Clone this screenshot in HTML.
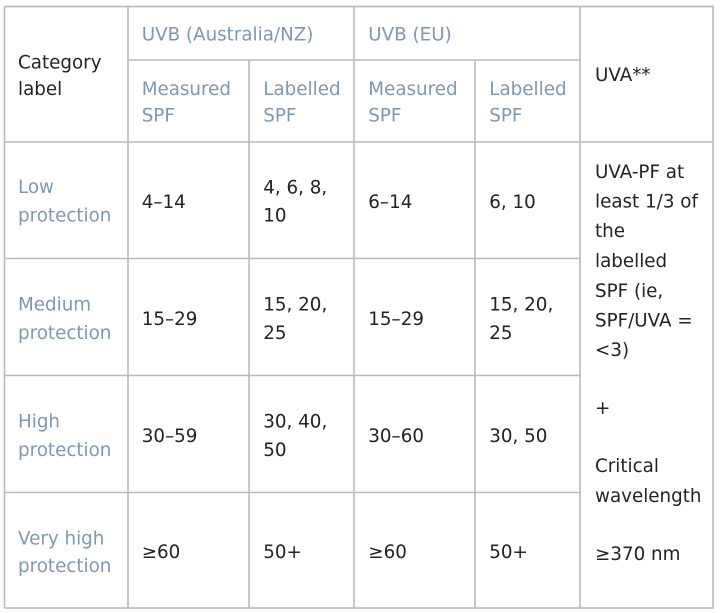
<!DOCTYPE html>
<html>
<head>
<meta charset="utf-8">
<style>
html,body{margin:0;padding:0;background:#fff;}
svg{display:block;}
text{font-family:"DejaVu Sans","Liberation Sans",sans-serif;font-size:18.3px;}
.d{fill:#232323;}
.b{fill:#7f98ae;}
</style>
</head>
<body>
<svg width="720" height="613" viewBox="0 0 720 613" xmlns="http://www.w3.org/2000/svg">
<g stroke="#b7babe" stroke-width="1.6" fill="none">
  <rect x="4.5" y="6.5" width="708.5" height="601.5"/>
  <line x1="128" y1="6.5" x2="128" y2="608"/>
  <line x1="249" y1="60" x2="249" y2="608"/>
  <line x1="354" y1="6.5" x2="354" y2="608"/>
  <line x1="475" y1="60" x2="475" y2="608"/>
  <line x1="580" y1="6.5" x2="580" y2="608"/>
  <line x1="128" y1="60" x2="580" y2="60"/>
  <line x1="4.5" y1="142" x2="713" y2="142"/>
  <line x1="4.5" y1="258.5" x2="580" y2="258.5"/>
  <line x1="4.5" y1="375.5" x2="580" y2="375.5"/>
  <line x1="4.5" y1="492.5" x2="580" y2="492.5"/>
</g>

<!-- Header -->
<text class="d" x="18" y="68.3">Category</text>
<text class="d" x="18" y="95">label</text>
<text class="b" x="141.7" y="40.7">UVB (Australia/NZ)</text>
<text class="b" x="368.3" y="40.7">UVB (EU)</text>
<text class="b" x="141.7" y="95">Measured</text>
<text class="b" x="141.7" y="121.7">SPF</text>
<text class="b" x="263.3" y="95">Labelled</text>
<text class="b" x="263.3" y="121.7">SPF</text>
<text class="b" x="368.3" y="95">Measured</text>
<text class="b" x="368.3" y="121.7">SPF</text>
<text class="b" x="489.3" y="95">Labelled</text>
<text class="b" x="489.3" y="121.7">SPF</text>
<text class="d" x="595" y="81">UVA**</text>

<!-- Low -->
<text class="b" x="18" y="193">Low</text>
<text class="b" x="18" y="221.5">protection</text>
<text class="d" x="141.7" y="208">4–14</text>
<text class="d" x="263.3" y="193.5">4, 6, 8,</text>
<text class="d" x="263.3" y="221.5">10</text>
<text class="d" x="368.3" y="208">6–14</text>
<text class="d" x="489.3" y="208">6, 10</text>

<!-- Medium -->
<text class="b" x="18" y="310.5">Medium</text>
<text class="b" x="18" y="339">protection</text>
<text class="d" x="141.7" y="325">15–29</text>
<text class="d" x="263.3" y="310.5">15, 20,</text>
<text class="d" x="263.3" y="339">25</text>
<text class="d" x="368.3" y="325">15–29</text>
<text class="d" x="489.3" y="310.5">15, 20,</text>
<text class="d" x="489.3" y="339">25</text>

<!-- High -->
<text class="b" x="18" y="427.5">High</text>
<text class="b" x="18" y="456">protection</text>
<text class="d" x="141.7" y="442">30–59</text>
<text class="d" x="263.3" y="427.5">30, 40,</text>
<text class="d" x="263.3" y="456">50</text>
<text class="d" x="368.3" y="442">30–60</text>
<text class="d" x="489.3" y="442">30, 50</text>

<!-- Very high -->
<text class="b" x="18" y="544.5">Very high</text>
<text class="b" x="18" y="572">protection</text>
<text class="d" x="141.7" y="558">≥60</text>
<text class="d" x="263.3" y="558">50+</text>
<text class="d" x="368.3" y="558">≥60</text>
<text class="d" x="489.3" y="558">50+</text>

<!-- UVA column -->
<text class="d" x="595" y="178">UVA-PF at</text>
<text class="d" x="595" y="207.5">least 1/3 of</text>
<text class="d" x="595" y="237">the</text>
<text class="d" x="595" y="267">labelled</text>
<text class="d" x="595" y="297">SPF (ie,</text>
<text class="d" x="595" y="326.5">SPF/UVA =</text>
<text class="d" x="595" y="356">&lt;3)</text>
<text class="d" x="595" y="414">+</text>
<text class="d" x="595" y="472">Critical</text>
<text class="d" x="595" y="502">wavelength</text>
<text class="d" x="595" y="560">≥370 nm</text>
</svg>
</body>
</html>
